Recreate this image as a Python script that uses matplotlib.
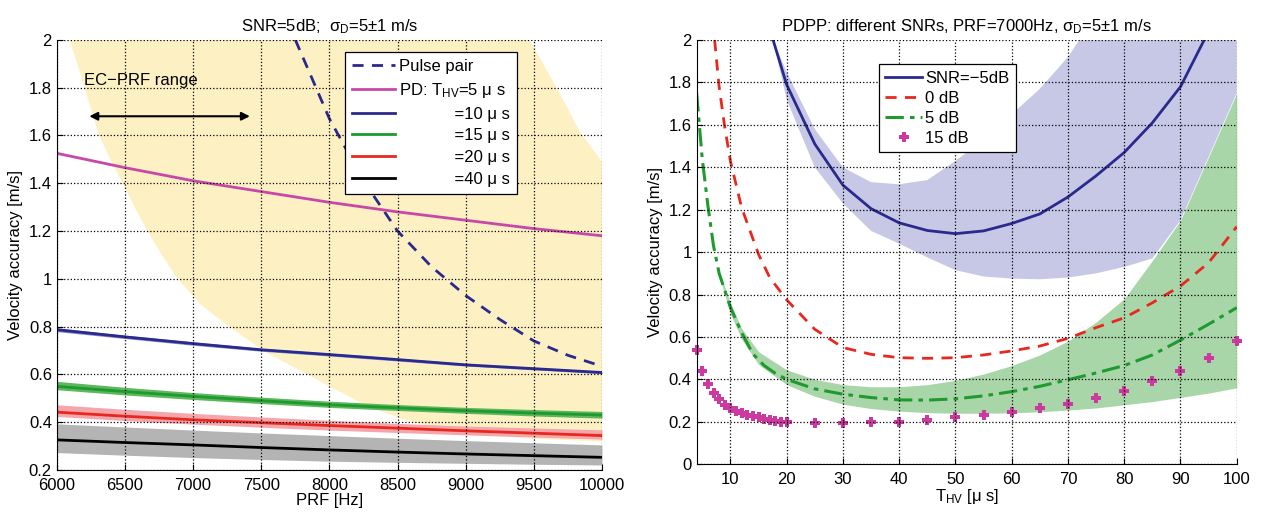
import matplotlib
matplotlib.use("Agg")
import matplotlib.pyplot as plt
from matplotlib.ticker import FuncFormatter, MultipleLocator

plt.rcParams['font.family'] = ['Liberation Sans', 'DejaVu Sans']
plt.rcParams['mathtext.fontset'] = 'custom'
plt.rcParams['mathtext.rm'] = 'Liberation Sans'
plt.rcParams['mathtext.it'] = 'Liberation Sans:italic'
plt.rcParams['font.size'] = 11

# ---------------- left panel data: accuracy vs PRF ----------------
prf = [6000, 6500, 7000, 7500, 8000, 8500, 9000, 9500, 10000]
pd5 = [1.525, 1.465, 1.41, 1.365, 1.32, 1.28, 1.245, 1.21, 1.18]
pd10 = [0.787, 0.757, 0.729, 0.703, 0.683, 0.662, 0.64, 0.624, 0.608]
pd10_lo = [0.779, 0.750, 0.722, 0.697, 0.677, 0.656, 0.635, 0.619, 0.603]
pd10_hi = [0.795, 0.764, 0.736, 0.709, 0.689, 0.668, 0.645, 0.629, 0.613]
pd15 = [0.55, 0.528, 0.508, 0.49, 0.473, 0.46, 0.448, 0.438, 0.43]
pd15_lo = [0.536, 0.514, 0.495, 0.478, 0.462, 0.449, 0.437, 0.426, 0.417]
pd15_hi = [0.571, 0.546, 0.524, 0.505, 0.488, 0.474, 0.462, 0.453, 0.445]
pd20 = [0.442, 0.425, 0.41, 0.398, 0.386, 0.375, 0.364, 0.354, 0.344]
pd20_lo = [0.424, 0.407, 0.392, 0.379, 0.367, 0.357, 0.347, 0.338, 0.329]
pd20_hi = [0.473, 0.454, 0.437, 0.422, 0.408, 0.395, 0.384, 0.376, 0.368]
pd40 = [0.326, 0.315, 0.305, 0.294, 0.284, 0.275, 0.267, 0.26, 0.253]
pd40_lo = [0.273, 0.262, 0.252, 0.244, 0.237, 0.232, 0.228, 0.224, 0.221]
pd40_hi = [0.393, 0.38, 0.367, 0.355, 0.344, 0.333, 0.323, 0.314, 0.305]

pp_prf = [7750, 8000, 8250, 8500, 8750, 9000, 9250, 9500, 9750, 10000]
pulse_pair = [2.0, 1.67, 1.41, 1.2, 1.05, 0.93, 0.83, 0.74, 0.68, 0.634]

# EC-PRF range (shaded region)
ec_lo_prf = [6092, 6150, 6202, 6310, 6400, 6483, 6570, 6666, 6770, 6886,
             7060, 7264, 7540, 7838, 8000, 8250, 8500, 8750, 9000, 9500, 10000]
ec_lo = [2.0, 1.9, 1.8, 1.6, 1.49, 1.4, 1.3, 1.2, 1.1, 1.0,
         0.89, 0.8, 0.69, 0.6, 0.55, 0.475, 0.42, 0.38, 0.355, 0.33, 0.32]
ec_hi_prf = [9470, 9714, 9838, 10000]
ec_hi = [2.0, 1.75, 1.615, 1.49]

# ---------------- right panel data: accuracy vs T_HV ----------------
t_m5 = [17.6, 20, 25, 30, 35, 40, 45, 50, 55, 60, 65, 70, 75, 80, 85, 90, 94.2]
snr_m5 = [2.0, 1.79, 1.51, 1.316, 1.205, 1.138, 1.102, 1.087, 1.1, 1.135,
          1.18, 1.26, 1.36, 1.47, 1.61, 1.78, 2.0]
t_m5_up = [17.6, 20, 25, 30, 35, 40, 45, 50, 55, 60, 65, 70, 72, 100]
m5_up = [2.0, 1.85, 1.58, 1.40, 1.33, 1.32, 1.34, 1.43, 1.53, 1.65, 1.77,
         1.92, 2.0, 2.0]
t_m5_lo = [17.6, 20, 25, 30, 35, 40, 45, 50, 55, 60, 65, 70, 75, 80, 85, 90,
           95, 100]
m5_lo = [2.0, 1.72, 1.4, 1.23, 1.1, 1.04, 0.975, 0.915, 0.885, 0.875, 0.872,
         0.88, 0.9, 0.93, 0.97, 1.15, 1.45, 1.75]

t_0 = [7.2, 8, 9, 10, 12, 15, 17, 20, 25, 30, 35, 40, 45, 50, 55, 60, 65, 70,
       75, 80, 85, 90, 95, 100]
snr_0 = [2.0, 1.78, 1.59, 1.43, 1.21, 0.99, 0.88, 0.775, 0.636, 0.55, 0.518,
         0.502, 0.499, 0.502, 0.515, 0.534, 0.557, 0.593, 0.644, 0.69, 0.761,
         0.84, 0.95, 1.12]

t_5 = [4, 5, 6, 7, 8, 9, 10, 12, 14, 16, 18, 20, 25, 30, 35, 40, 45, 50, 55,
       60, 65, 70, 75, 80, 85, 90, 95, 100]
snr_5 = [1.75, 1.44, 1.22, 1.03, 0.9, 0.82, 0.74, 0.62, 0.52, 0.465, 0.428,
         0.40, 0.355, 0.33, 0.314, 0.303, 0.302, 0.308, 0.322, 0.342, 0.367,
         0.398, 0.43, 0.465, 0.515, 0.585, 0.66, 0.738]
t_5b = [8, 10, 12, 15, 20, 25, 30, 35, 40, 45, 50, 55, 60, 65, 70, 75, 80, 85,
        90, 95, 100]
snr5_up = [0.91, 0.76, 0.64, 0.53, 0.445, 0.40, 0.375, 0.365, 0.365, 0.375,
           0.395, 0.425, 0.465, 0.515, 0.58, 0.67, 0.78, 0.96, 1.15, 1.45, 1.75]
snr5_lo = [0.89, 0.71, 0.59, 0.47, 0.375, 0.32, 0.283, 0.262, 0.25, 0.243,
           0.24, 0.24, 0.242, 0.247, 0.255, 0.265, 0.28, 0.295, 0.315, 0.335,
           0.36]

t_15 = [4, 5, 6, 7, 8, 9, 10, 11, 12, 13, 14, 15, 16, 17, 18, 19, 20, 25, 30,
        35, 40, 45, 50, 55, 60, 65, 70, 75, 80, 85, 90, 95, 100]
snr_15 = [0.54, 0.44, 0.38, 0.335, 0.305, 0.28, 0.265, 0.25, 0.24, 0.23,
          0.225, 0.22, 0.215, 0.21, 0.205, 0.2, 0.2, 0.195, 0.195, 0.198, 0.2,
          0.21, 0.22, 0.23, 0.245, 0.265, 0.285, 0.31, 0.345, 0.39, 0.44, 0.5,
          0.58]

navy = '#2A2A8E'
magenta = '#C848A8'
green = '#1E9A2E'
red = '#E8281E'

fig = plt.figure(figsize=(12.62, 5.14), dpi=100)
ax1 = fig.add_axes([0.045, 0.0856, 0.432, 0.837])
ax2 = fig.add_axes([0.552, 0.097, 0.428, 0.825])

fmt = FuncFormatter(lambda v, p: '%g' % round(v, 6))

def style(ax):
    ax.grid(True, linestyle=':', color='black', linewidth=0.9)
    ax.set_axisbelow(False)
    for s in ['top', 'right']:
        ax.spines[s].set_visible(False)
    ax.tick_params(direction='in', length=4, labelsize=12)
    ax.tick_params(axis='x', pad=6)
    ax.yaxis.set_major_formatter(fmt)
    ax.set_ylabel('Velocity accuracy [m/s]', fontsize=12)

# ---- left ----
poly_x = ec_lo_prf + ec_hi_prf[::-1]
poly_y = ec_lo + ec_hi[::-1]
ax1.fill(poly_x, poly_y, color='#FDF1C4', lw=0, zorder=0.5)
ax1.fill_between(prf, pd40_lo, pd40_hi, color='#B4B4B4', lw=0, zorder=0.6)
ax1.fill_between(prf, pd20_lo, pd20_hi, color='#F4A6AC', lw=0, zorder=0.6)
ax1.fill_between(prf, pd15_lo, pd15_hi, color='#5DB85D', lw=0, zorder=0.6)
ax1.fill_between(prf, pd10_lo, pd10_hi, color='#8888CC', lw=0, zorder=0.6)
ax1.plot(pp_prf, pulse_pair, '--', color=navy, lw=2, dashes=(4, 3), label='Pulse pair')
ax1.plot(prf, pd5, color=magenta, lw=2, label='PD: T$_{\\mathrm{HV}}$=5 μ s')
pad = ' ' * 12
ax1.plot(prf, pd10, color=navy, lw=2, label=pad + '=10 μ s')
ax1.plot(prf, pd15, color=green, lw=2, label=pad + '=15 μ s')
ax1.plot(prf, pd20, color=red, lw=2, label=pad + '=20 μ s')
ax1.plot(prf, pd40, color='black', lw=2, label=pad + '=40 μ s')
ax1.annotate('', xy=(6218, 1.68), xytext=(7437, 1.68),
             arrowprops=dict(arrowstyle='<|-|>', color='black', lw=1.5,
                             mutation_scale=12))
ax1.text(6200, 1.83, 'EC−PRF range', fontsize=12, va='center', ha='left')
ax1.set_xlim(6000, 10000)
ax1.set_ylim(0.2, 2)
ax1.xaxis.set_major_locator(MultipleLocator(500))
ax1.yaxis.set_major_locator(MultipleLocator(0.2))
style(ax1)
ax1.set_xlabel('PRF [Hz]', fontsize=12, labelpad=0)
ax1.set_title('SNR=5dB;  σ$_{\\mathrm{D}}$=5±1 m/s', fontsize=12)
leg1 = ax1.legend(loc='upper left', bbox_to_anchor=(0.528, 0.972), fontsize=12,
                  handlelength=2.6, borderpad=0.45, labelspacing=0.4,
                  handletextpad=0.2, borderaxespad=0, fancybox=False,
                  framealpha=1, edgecolor='black')
leg1.get_frame().set_linewidth(0.9)

# ---- right ----
ax2.fill(t_m5_up + t_m5_lo[::-1], m5_up + m5_lo[::-1], color='#C7C8E6', lw=0,
         zorder=0.5)
ax2.fill_between(t_5b, snr5_lo, snr5_up, color='#A8D6A8', lw=0, zorder=0.6)
ax2.plot(t_m5, snr_m5, '-', color=navy, lw=2, label='SNR=−5dB')
ax2.plot(t_0, snr_0, '--', color=red, lw=2, dashes=(4, 3), label='0 dB')
ax2.plot(t_5, snr_5, '-.', color=green, lw=2.2, dashes=(6, 2, 1.5, 2), label='5 dB')
ax2.plot(t_15, snr_15, 'P', color='#CC3AA0', markersize=7, markeredgewidth=0,
         linestyle='none', clip_on=False, label='15 dB')
ax2.set_xlim(4, 100)
ax2.set_ylim(0, 2)
ax2.set_xticks(list(range(10, 101, 10)))
ax2.yaxis.set_major_locator(MultipleLocator(0.2))
style(ax2)
ax2.set_xlabel('T$_{\\mathrm{HV}}$ [μ s]', fontsize=12, labelpad=0)
ax2.set_title('PDPP: different SNRs, PRF=7000Hz, σ$_{\\mathrm{D}}$=5±1 m/s', fontsize=12)
leg2 = ax2.legend(loc='upper left', bbox_to_anchor=(0.337, 0.944), fontsize=12,
                  handlelength=2.2, borderpad=0.4, labelspacing=0.3,
                  handletextpad=0.2, borderaxespad=0, fancybox=False,
                  framealpha=1, edgecolor='black')
leg2.get_frame().set_linewidth(0.9)

fig.savefig('out.png', dpi=100)
